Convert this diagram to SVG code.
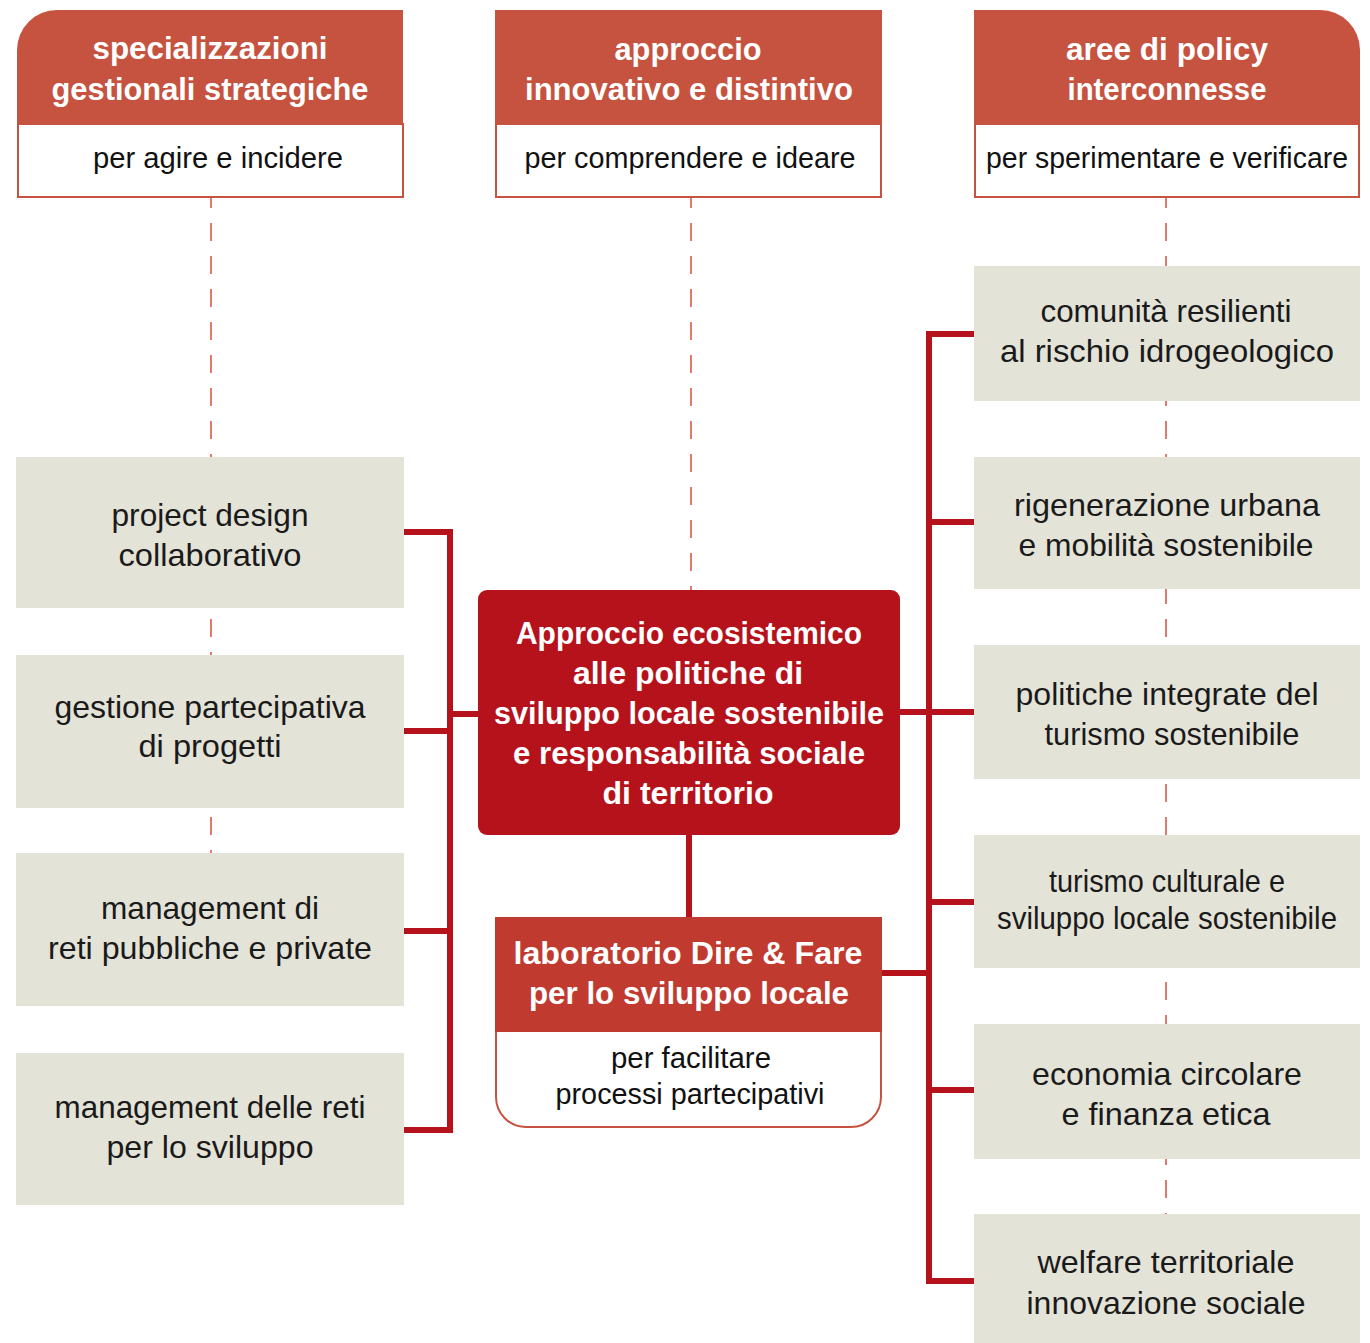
<svg xmlns="http://www.w3.org/2000/svg" width="1370" height="1343" viewBox="0 0 1370 1343">
<style>
.hdr{fill:#c5533f}
.sub{fill:#fff;stroke:#c5533f;stroke-width:2}
.gray{fill:#e4e3d8}
.ht{font-family:"Liberation Sans",Arial,sans-serif;font-weight:bold;font-size:31px;fill:#fff;text-anchor:middle}
.st{font-family:"Liberation Sans",Arial,sans-serif;font-size:29px;fill:#111;text-anchor:middle}
.gt{font-family:"Liberation Sans",Arial,sans-serif;font-size:32px;fill:#1a1a1a;text-anchor:middle}
.dash{stroke:#e07b6c;stroke-width:2;stroke-dasharray:18 15;fill:none}
.con{stroke:#b5121b;stroke-width:6;fill:none}
</style>
<rect width="1370" height="1343" fill="#fff"/>
<g id="dashes">
<line class="dash" x1="211" y1="197" x2="211" y2="853" stroke-dashoffset="7"/>
<line class="dash" x1="691" y1="197" x2="691" y2="590" stroke-dashoffset="7"/>
<line class="dash" x1="1166" y1="197" x2="1166" y2="1214" stroke-dashoffset="7"/>
</g>
<g id="connectors">
<polyline class="con" points="404,532 450,532 450,1130 404,1130"/>
<line class="con" x1="404" y1="731" x2="450" y2="731"/>
<line class="con" x1="404" y1="931" x2="450" y2="931"/>
<line class="con" x1="450" y1="714" x2="478" y2="714"/>
<polyline class="con" points="974,334 929,334 929,1281 974,1281"/>
<line class="con" x1="929" y1="522" x2="974" y2="522"/>
<line class="con" x1="900" y1="712" x2="974" y2="712"/>
<line class="con" x1="929" y1="902" x2="974" y2="902"/>
<line class="con" x1="929" y1="1090" x2="974" y2="1090"/>
<line class="con" x1="882" y1="973" x2="929" y2="973"/>
<line class="con" x1="689" y1="835" x2="689" y2="917"/>
</g>
<g id="hdr-left">
<rect class="sub" x="18" y="124" width="385" height="73"/>
<path class="hdr" d="M17,125 V50 A40,40 0 0 1 57,10 H403 V125 Z"/>
<text class="ht" x="210" y="59" textLength="235" lengthAdjust="spacingAndGlyphs">specializzazioni</text>
<text class="ht" x="210" y="100" textLength="317" lengthAdjust="spacingAndGlyphs">gestionali strategiche</text>
<text class="st" x="218" y="168" textLength="250" lengthAdjust="spacingAndGlyphs">per agire e incidere</text>
</g>
<g id="hdr-mid">
<rect class="sub" x="496" y="124" width="385" height="73"/>
<rect class="hdr" x="495" y="10" width="387" height="115"/>
<text class="ht" x="688" y="60" textLength="147" lengthAdjust="spacingAndGlyphs">approccio</text>
<text class="ht" x="689" y="100" textLength="328" lengthAdjust="spacingAndGlyphs">innovativo e distintivo</text>
<text class="st" x="690" y="168" textLength="331" lengthAdjust="spacingAndGlyphs">per comprendere e ideare</text>
</g>
<g id="hdr-right">
<rect class="sub" x="975" y="124" width="384" height="73"/>
<path class="hdr" d="M974,10 H1320 A40,40 0 0 1 1360,50 V125 H974 Z"/>
<text class="ht" x="1167" y="60" textLength="202" lengthAdjust="spacingAndGlyphs">aree di policy</text>
<text class="ht" x="1167" y="100" textLength="199" lengthAdjust="spacingAndGlyphs">interconnesse</text>
<text class="st" x="1167" y="168" textLength="362" lengthAdjust="spacingAndGlyphs">per sperimentare e verificare</text>
</g>
<g id="left-1">
<rect class="gray" x="16" y="457" width="388" height="151"/>
<text class="gt" x="210" y="526" textLength="197" lengthAdjust="spacingAndGlyphs">project design</text>
<text class="gt" x="210" y="566" textLength="183" lengthAdjust="spacingAndGlyphs">collaborativo</text>
</g>
<g id="left-2">
<rect class="gray" x="16" y="655" width="388" height="153"/>
<text class="gt" x="210" y="718" textLength="311" lengthAdjust="spacingAndGlyphs">gestione partecipativa</text>
<text class="gt" x="210" y="757" textLength="143" lengthAdjust="spacingAndGlyphs">di progetti</text>
</g>
<g id="left-3">
<rect class="gray" x="16" y="853" width="388" height="153"/>
<text class="gt" x="210" y="919" textLength="218" lengthAdjust="spacingAndGlyphs">management di</text>
<text class="gt" x="210" y="959" textLength="324" lengthAdjust="spacingAndGlyphs">reti pubbliche e private</text>
</g>
<g id="left-4">
<rect class="gray" x="16" y="1053" width="388" height="152"/>
<text class="gt" x="210" y="1118" textLength="311" lengthAdjust="spacingAndGlyphs">management delle reti</text>
<text class="gt" x="210" y="1158" textLength="207" lengthAdjust="spacingAndGlyphs">per lo sviluppo</text>
</g>
<g id="right-1">
<rect class="gray" x="974" y="266" width="386" height="135"/>
<text class="gt" x="1166" y="322" textLength="251" lengthAdjust="spacingAndGlyphs">comunità resilienti</text>
<text class="gt" x="1167" y="362" textLength="334" lengthAdjust="spacingAndGlyphs">al rischio idrogeologico</text>
</g>
<g id="right-2">
<rect class="gray" x="974" y="457" width="386" height="132"/>
<text class="gt" x="1167" y="516" textLength="306" lengthAdjust="spacingAndGlyphs">rigenerazione urbana</text>
<text class="gt" x="1166" y="556" textLength="295" lengthAdjust="spacingAndGlyphs">e mobilità sostenibile</text>
</g>
<g id="right-3">
<rect class="gray" x="974" y="645" width="386" height="134"/>
<text class="gt" x="1167" y="705" textLength="303" lengthAdjust="spacingAndGlyphs">politiche integrate del</text>
<text class="gt" x="1172" y="745" textLength="255" lengthAdjust="spacingAndGlyphs">turismo sostenibile</text>
</g>
<g id="right-4">
<rect class="gray" x="974" y="835" width="386" height="133"/>
<text class="gt" x="1167" y="892" textLength="236" lengthAdjust="spacingAndGlyphs">turismo culturale e</text>
<text class="gt" x="1167" y="929" textLength="340" lengthAdjust="spacingAndGlyphs">sviluppo locale sostenibile</text>
</g>
<g id="right-5">
<rect class="gray" x="974" y="1024" width="386" height="135"/>
<text class="gt" x="1167" y="1085" textLength="270" lengthAdjust="spacingAndGlyphs">economia circolare</text>
<text class="gt" x="1166" y="1125" textLength="209" lengthAdjust="spacingAndGlyphs">e finanza etica</text>
</g>
<g id="right-6">
<rect class="gray" x="974" y="1214" width="386" height="129"/>
<text class="gt" x="1166" y="1273" textLength="257" lengthAdjust="spacingAndGlyphs">welfare territoriale</text>
<text class="gt" x="1166" y="1314" textLength="279" lengthAdjust="spacingAndGlyphs">innovazione sociale</text>
</g>
<g id="center">
<rect x="478" y="590" width="422" height="245" rx="9" fill="#b5121b"/>
<text class="ht" x="689" y="644" textLength="346" lengthAdjust="spacingAndGlyphs">Approccio ecosistemico</text>
<text class="ht" x="688" y="684" textLength="230" lengthAdjust="spacingAndGlyphs">alle politiche di</text>
<text class="ht" x="689" y="724" textLength="390" lengthAdjust="spacingAndGlyphs">sviluppo locale sostenibile</text>
<text class="ht" x="689" y="764" textLength="352" lengthAdjust="spacingAndGlyphs">e responsabilità sociale</text>
<text class="ht" x="688" y="804" textLength="171" lengthAdjust="spacingAndGlyphs">di territorio</text>
</g>
<g id="laboratorio">
<path d="M496,1031 V1097 A30,30 0 0 0 526,1127 H851 A30,30 0 0 0 881,1097 V1031" fill="#fff" stroke="#c5533f" stroke-width="2"/>
<rect x="495" y="917" width="387" height="115" fill="#c03a30"/>
<text class="ht" x="688" y="964" textLength="349" lengthAdjust="spacingAndGlyphs">laboratorio Dire &amp; Fare</text>
<text class="ht" x="689" y="1004" textLength="320" lengthAdjust="spacingAndGlyphs">per lo sviluppo locale</text>
<text class="st" x="691" y="1068" font-size="28" textLength="160" lengthAdjust="spacingAndGlyphs">per facilitare</text>
<text class="st" x="690" y="1104" font-size="28" textLength="269" lengthAdjust="spacingAndGlyphs">processi partecipativi</text>
</g>
</svg>
